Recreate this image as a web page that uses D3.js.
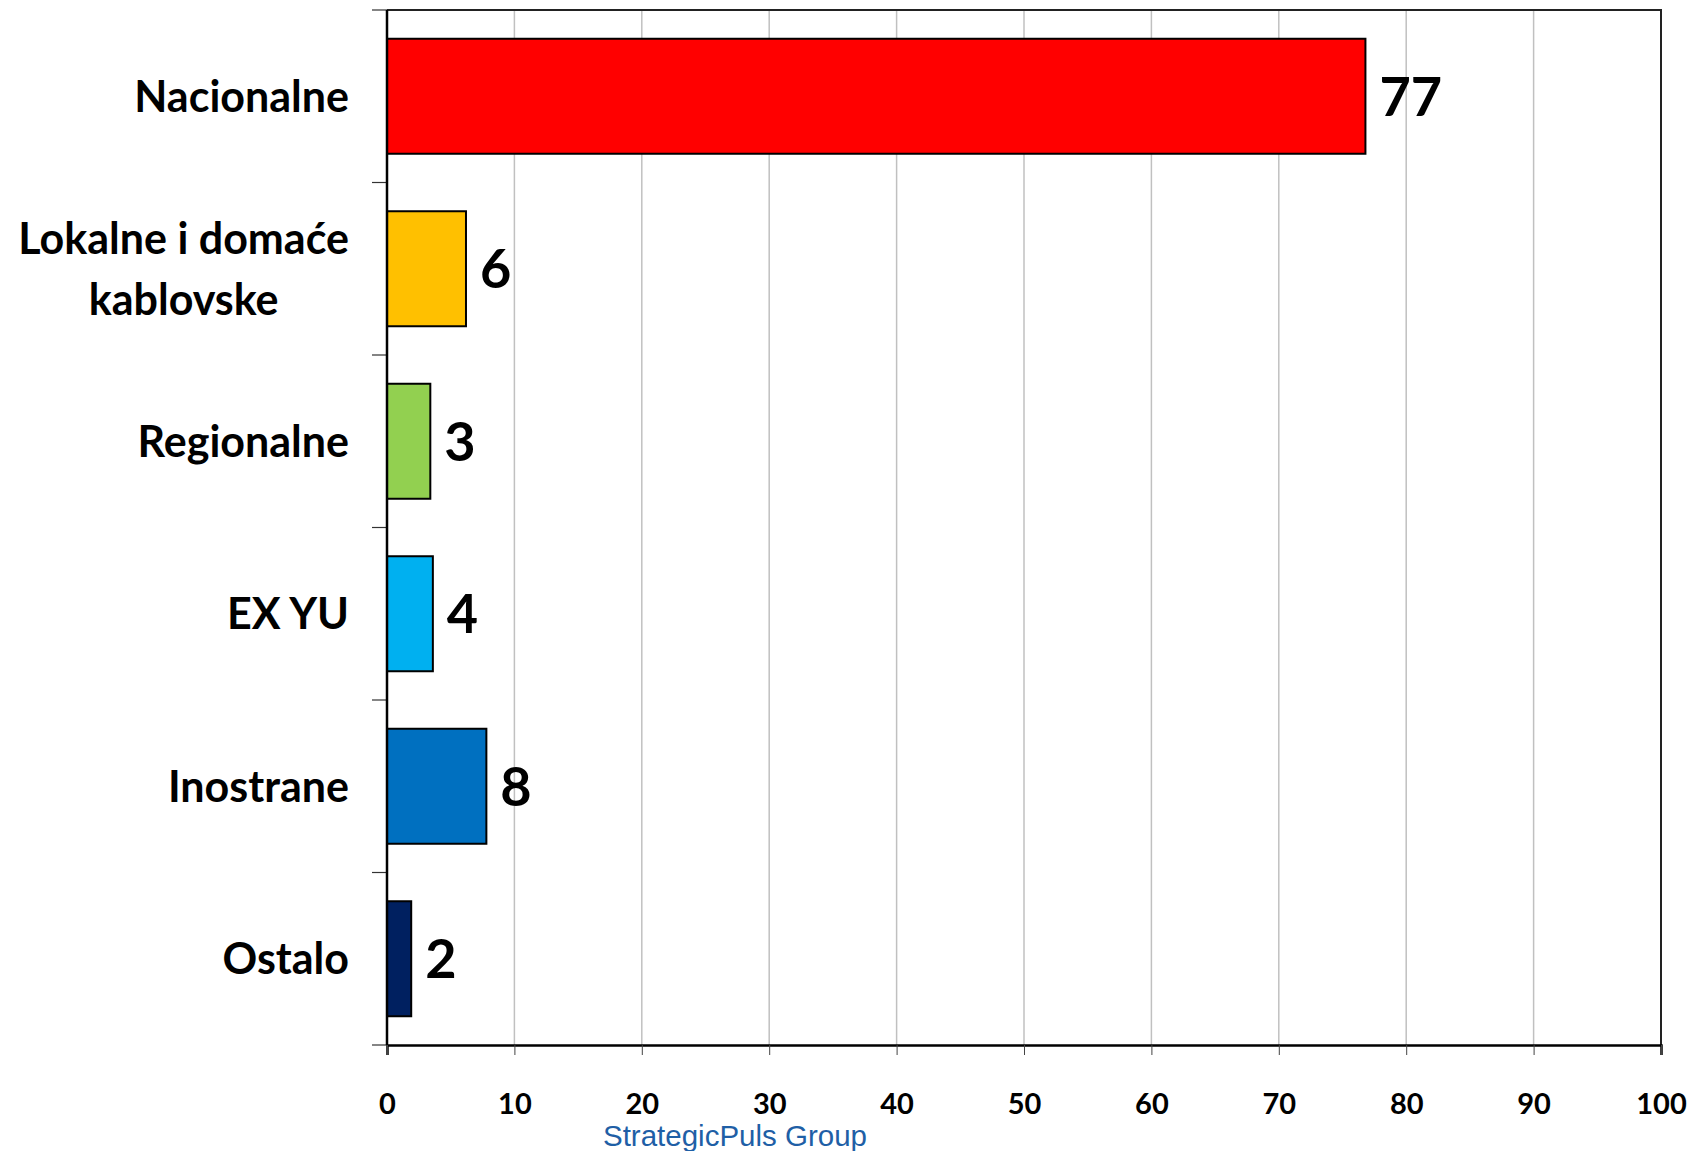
<!DOCTYPE html>
<html>
<head>
<meta charset="utf-8">
<script src="https://cdn.jsdelivr.net/npm/d3@7"></script>
<style>
  body { margin: 0; background: #fff; }
  text { font-family: Lato, "Open Sans", sans-serif; }
</style>
</head>
<body>
<div id="chart"></div>
<script>
// data
const categories = ["Nacionalne", "Lokalne i domaće kablovske", "Regionalne", "EX YU", "Inostrane", "Ostalo"];
const values = [76.8, 6.2, 3.4, 3.6, 7.8, 1.9];
const valueLabels = ["77", "6", "3", "4", "8", "2"];
const barColors = ["#ff0000", "#ffc000", "#92d050", "#00b0f0", "#0070c0", "#002060"];
const xTicks = [0, 10, 20, 30, 40, 50, 60, 70, 80, 90, 100];
// wrapped lines for the long category
const labelLines = {
    "Lokalne i domaće kablovske": ["Lokalne i domaće", "kablovske"]
};

const width = 1703;
const height = 1151;
const margin = { top: 10, right: 42, bottom: 106, left: 387 };

const svg = d3.select("#chart").append("svg")
    .attr("width", width)
    .attr("height", height);

const xScale = d3.scaleLinear()
    .domain([0, 100])
    .range([margin.left, width - margin.right]);

const yScale = d3.scaleBand()
    .domain(categories)
    .range([margin.top, height - margin.bottom])
    .paddingInner(1 / 3)
    .paddingOuter(1 / 6);

// vertical gridlines
svg.append("g")
    .selectAll("line")
    .data(xTicks.filter(d => d > 0 && d < 100))
    .enter()
    .append("line")
    .attr("x1", d => xScale(d))
    .attr("x2", d => xScale(d))
    .attr("y1", margin.top)
    .attr("y2", height - margin.bottom)
    .attr("stroke", "#c0c0c0")
    .attr("stroke-width", 1.5);

// top and right frame
svg.append("path")
    .attr("d", `M${margin.left},${margin.top}H${width - margin.right}V${height - margin.bottom}`)
    .attr("fill", "none")
    .attr("stroke", "#222")
    .attr("stroke-width", 2);

// bars
svg.selectAll(".bar")
    .data(values)
    .enter()
    .append("rect")
    .attr("class", "bar")
    .attr("x", xScale(0))
    .attr("y", (d, i) => yScale(categories[i]))
    .attr("width", d => xScale(d) - xScale(0))
    .attr("height", yScale.bandwidth())
    .attr("fill", (d, i) => barColors[i])
    .attr("stroke", "#000")
    .attr("stroke-width", 2);

// value labels
svg.selectAll(".val")
    .data(values)
    .enter()
    .append("text")
    .attr("class", "val")
    .attr("x", d => xScale(d) + 14)
    .attr("y", (d, i) => yScale(categories[i]) + yScale.bandwidth() / 2)
    .attr("dy", "0.36em")
    .style("font-size", "54px")
    .style("font-weight", "bold")
    .text((d, i) => valueLabels[i]);

// x axis
const xAxis = svg.append("g")
    .attr("transform", `translate(0,${height - margin.bottom})`)
    .call(d3.axisBottom(xScale).tickValues(xTicks).tickSize(10).tickPadding(38));
xAxis.select(".domain").attr("stroke", "#000").attr("stroke-width", 2.5);
xAxis.selectAll(".tick line").attr("stroke", "#444");
xAxis.selectAll("text")
    .style("font-family", "Lato, sans-serif")
    .style("font-size", "29px")
    .style("font-weight", "bold")
    .attr("fill", "#000");

// y axis: ticks on band boundaries
const boundaries = categories.map(c => yScale(c) - yScale.step() * yScale.paddingInner() / 2);
boundaries.push(height - margin.bottom);
svg.append("g")
    .selectAll("line")
    .data(boundaries)
    .enter()
    .append("line")
    .attr("x1", margin.left - 15)
    .attr("x2", margin.left)
    .attr("y1", d => d)
    .attr("y2", d => d)
    .attr("stroke", "#333")
    .attr("stroke-width", 1.2);

svg.append("line")
    .attr("x1", margin.left)
    .attr("x2", margin.left)
    .attr("y1", margin.top)
    .attr("y2", height - margin.bottom)
    .attr("stroke", "#000")
    .attr("stroke-width", 2.5);

// category labels
const labelX = margin.left - 38;
const catLabels = svg.append("g")
    .selectAll("text")
    .data(categories)
    .enter()
    .append("text")
    .attr("x", labelX)
    .attr("y", d => yScale(d) + yScale.bandwidth() / 2)
    .attr("text-anchor", "end")
    .style("font-size", "43px")
    .style("font-weight", "bold");

catLabels.each(function (d) {
    const lines = labelLines[d] || [d];
    const el = d3.select(this);
    const lineH = 61;
    const y0 = yScale(d) + yScale.bandwidth() / 2 - (lines.length - 1) * lineH / 2;
    lines.forEach((ln, i) => {
        el.append("tspan")
            .attr("x", labelX)
            .attr("y", y0 + i * lineH)
            .attr("dy", "0.36em")
            .text(ln);
    });
});

// second line of wrapped label is centred under the first
catLabels.filter(d => labelLines[d]).each(function () {
    const spans = d3.select(this).selectAll("tspan").nodes();
    const w0 = spans[0].getComputedTextLength();
    const cx = labelX - w0 / 2;
    d3.select(this).attr("text-anchor", "middle");
    spans.forEach(s => d3.select(s).attr("x", cx));
});

// source note
svg.append("text")
    .attr("x", 735)
    .attr("y", 1146)
    .attr("text-anchor", "middle")
    .style("font-family", "'Liberation Sans', Arial, sans-serif")
    .style("font-size", "29.5px")
    .attr("fill", "#1f5fa6")
    .text("StrategicPuls Group");
</script>
</body>
</html>
